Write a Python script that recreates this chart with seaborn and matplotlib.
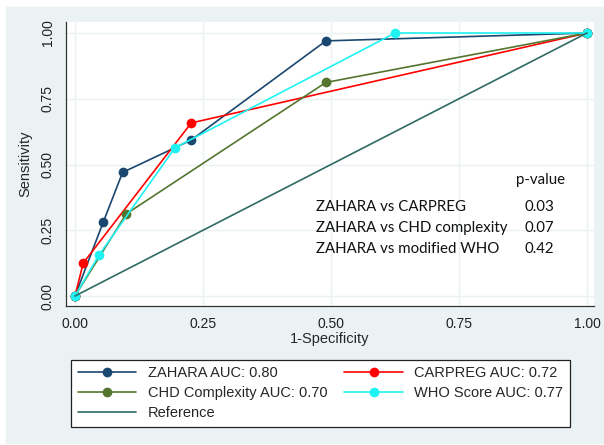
import matplotlib
matplotlib.use("Agg")
import matplotlib.pyplot as plt
from matplotlib.patches import Rectangle
import seaborn as sns

# ROC points (1-specificity, sensitivity)
zahara_x = [0.0, 0.055, 0.093, 0.227, 0.49, 1.0]
zahara_y = [0.0, 0.28, 0.47, 0.593, 0.97, 1.0]
carpreg_x = [0.0, 0.016, 0.227, 1.0]
carpreg_y = [0.0, 0.125, 0.658, 1.0]
chd_x = [0.0, 0.10, 0.49, 1.0]
chd_y = [0.0, 0.312, 0.812, 1.0]
who_x = [0.0, 0.047, 0.195, 0.625, 1.0]
who_y = [0.0, 0.156, 0.563, 1.0, 1.0]
ref_x = [0.0, 1.0]
ref_y = [0.0, 1.0]

ticks = [0.0, 0.25, 0.5, 0.75, 1.0]
tick_labels = ["0.00", "0.25", "0.50", "0.75", "1.00"]

comparisons = ["ZAHARA vs CARPREG", "ZAHARA vs CHD complexity", "ZAHARA vs modified WHO"]
p_values = ["0.03", "0.07", "0.42"]

BG = "#eaf2f3"

sns.set_style("white")
plt.rcParams["font.family"] = ["Liberation Sans", "DejaVu Sans"]

fig = plt.figure(figsize=(6.04, 4.45), dpi=100, facecolor="white")
fig.patches.append(Rectangle((6 / 604, 2 / 445), 598 / 604, 436 / 445,
                             transform=fig.transFigure, color=BG, zorder=-1))
ax = fig.add_axes([66 / 604, 1 - 306 / 445, 528 / 604, 284 / 445])
ax.set_facecolor("white")

series = [
    (zahara_x, zahara_y, "#1a476f", "ZAHARA AUC: 0.80"),
    (carpreg_x, carpreg_y, "#ff0000", "CARPREG AUC: 0.72"),
    (chd_x, chd_y, "#55752f", "CHD Complexity AUC: 0.70"),
    (who_x, who_y, "#1ef2f2", "WHO Score AUC: 0.77"),
]
for xs, ys, col, lab in series:
    sns.lineplot(x=xs, y=ys, ax=ax, color=col, marker="o", markersize=7,
                 markeredgewidth=0, linewidth=1.2, sort=False, estimator=None,
                 label=lab)
sns.lineplot(x=ref_x, y=ref_y, ax=ax, color="#2e6b63", linewidth=1.2,
             sort=False, estimator=None, label="Reference")

ax.set_xlim(-9 / 512, 519 / 512)
ax.set_ylim(-10 / 263, 274 / 263)
ax.set_xticks(ticks)
ax.set_xticklabels(tick_labels, fontsize=10)
ax.set_yticks(ticks)
ax.set_yticklabels(tick_labels, fontsize=10, rotation=90, va="center")
ax.grid(True, color=BG, linewidth=1)
ax.set_axisbelow(True)
ax.tick_params(axis="both", direction="out", length=5, width=0.8,
               color="#333333", labelcolor="#222222", pad=3)
for s in ["top", "right"]:
    ax.spines[s].set_visible(False)
for s in ["left", "bottom"]:
    ax.spines[s].set_color("#333333")
    ax.spines[s].set_linewidth(0.9)
ax.set_xlabel("1-Specificity", fontsize=10.5, labelpad=1)
ax.set_ylabel("Sensitivity", fontsize=10.5, labelpad=6)

# p-value table
note_font = ["Lato", "DejaVu Sans"]
ax.text(0.91, 0.44, "p-value", fontsize=10.8, family=note_font,
        ha="center", va="center", color="#111111")
row_y = [0.338, 0.258, 0.178]
for yy, comp, pv in zip(row_y, comparisons, p_values):
    ax.text(0.47, yy, comp, fontsize=10.8, family=note_font,
            ha="left", va="center", color="#111111")
    ax.text(0.877, yy, pv, fontsize=10.8, family=note_font,
            ha="left", va="center", color="#111111")

h, l = ax.get_legend_handles_labels()
ax.get_legend().remove()
order = [0, 2, 4, 1, 3]
leg = fig.legend([h[i] for i in order], [l[i] for i in order],
                 loc="lower left", ncol=2, mode="expand",
                 bbox_to_anchor=(71 / 604, 1 - 427 / 445, 499 / 604, 70 / 445),
                 fontsize=10.5, frameon=True, fancybox=False, handlelength=4,
                 borderpad=0.45, labelspacing=0.42, handletextpad=0.8,
                 borderaxespad=0)
leg.get_frame().set_edgecolor("#222222")
leg.get_frame().set_linewidth(0.9)
leg.get_frame().set_facecolor("white")
leg.get_frame().set_alpha(1)

fig.savefig("out.png", dpi=100, facecolor=fig.get_facecolor())
